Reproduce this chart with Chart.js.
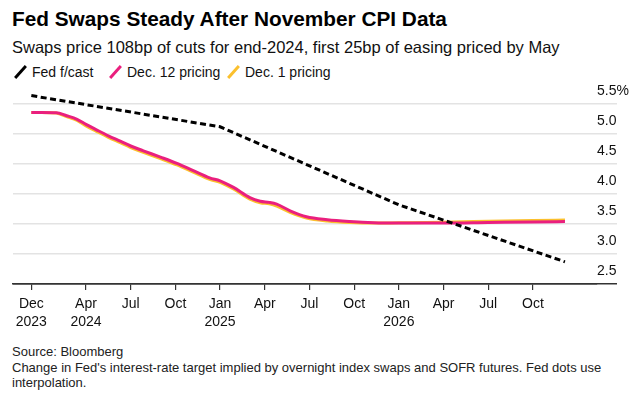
<!DOCTYPE html>
<html>
<head>
<meta charset="utf-8">
<script src="https://cdn.jsdelivr.net/npm/chart.js@4.4.0/dist/chart.umd.min.js"></script>
<style>
  body { margin:0; width:643px; height:396px; background:#fff; position:relative; overflow:hidden;
         font-family:"Liberation Sans", Arial, sans-serif; color:#000; }
  .txt { position:absolute; white-space:nowrap; }
  #title { left:12px; top:8px; font-size:20.8px; line-height:22px; font-weight:bold; }
  #subtitle { left:12px; top:38px; font-size:16.5px; line-height:18px; color:#111; }
  .leg { top:64px; font-size:14px; line-height:16px; color:#111; }
  .leg i { display:inline-block; width:3px; height:16px; margin:0 10px 0 5px; vertical-align:-3px; transform:rotate(42deg); }
  #chartBox { position:absolute; left:0; top:80px; width:643px; height:260px; }
  #notes { left:12px; top:344px; font-size:13px; line-height:15.5px; color:#222; }
</style>
</head>
<body>
<div class="txt" id="title">Fed Swaps Steady After November CPI Data</div>
<div class="txt" id="subtitle">Swaps price 108bp of cuts for end-2024, first 25bp of easing priced by May</div>
<div class="txt leg" style="left:14px"><i style="background:#000"></i>Fed f/cast</div>
<div class="txt leg" style="left:109px"><i style="background:#ea1f7e"></i>Dec. 12 pricing</div>
<div class="txt leg" style="left:227px"><i style="background:#fbc02d"></i>Dec. 1 pricing</div>
<div id="chartBox"><canvas id="chart" width="643" height="260"></canvas></div>
<div class="txt" id="notes">Source: Bloomberg<br>Change in Fed's interest-rate target implied by overnight index swaps and SOFR futures. Fed dots use<br>interpolation.</div>
<script>
// x values are months counted from Jan 2024 (Dec 13 2023 = -0.67)
const fedMonths = [-0.67, 12, 24, 35.15];
const fedValues = [5.64, 5.12, 3.82, 2.87];

const pricingMonths = [-0.67, 0, 1, 1.7, 2.4, 3, 3.7, 4.5, 5.3, 6, 6.85, 8, 9.1, 10.2, 11.3,
  12, 12.9, 14, 14.7, 15.3, 15.8, 16.7, 17.8, 19.2, 20.7, 22.3, 24, 27, 30, 33, 35.15];
const dec12Values = [5.36, 5.36, 5.355, 5.305, 5.245, 5.16, 5.07, 4.97, 4.88, 4.80, 4.72, 4.615, 4.51, 4.39, 4.27,
  4.22, 4.11, 3.94, 3.88, 3.86, 3.83, 3.72, 3.62, 3.57, 3.54, 3.52, 3.515, 3.515, 3.525, 3.535, 3.54];
const dec1Values = [5.36, 5.36, 5.35, 5.29, 5.225, 5.135, 5.045, 4.945, 4.855, 4.775, 4.695, 4.59, 4.485, 4.365, 4.245,
  4.195, 4.085, 3.915, 3.855, 3.835, 3.80, 3.695, 3.60, 3.55, 3.525, 3.515, 3.52, 3.53, 3.545, 3.56, 3.565];

const tickMonths = [-0.67, 3, 6, 9, 12, 15, 18, 21, 24, 27, 30, 33];
const tickLabels = [['Dec', '2023'], ['Apr', '2024'], 'Jul', 'Oct', ['Jan', '2025'], 'Apr', 'Jul', 'Oct',
  ['Jan', '2026'], 'Apr', 'Jul', 'Oct'];
const yTicks = [2.5, 3.0, 3.5, 4.0, 4.5, 5.0, 5.5];

const toPoints = (xs, ys) => xs.map((x, i) => ({ x: x, y: ys[i] }));

new Chart(document.getElementById('chart'), {
  type: 'line',
  data: {
    datasets: [
      { label: 'Fed f/cast', data: toPoints(fedMonths, fedValues), borderColor: '#000',
        borderWidth: 3, borderDash: [6, 3.5], tension: 0 },
      { label: 'Dec. 12 pricing', data: toPoints(pricingMonths, dec12Values), borderColor: '#ea1f7e',
        borderWidth: 3, cubicInterpolationMode: 'monotone' },
      { label: 'Dec. 1 pricing', data: toPoints(pricingMonths, dec1Values), borderColor: '#fbc02d',
        borderWidth: 3, cubicInterpolationMode: 'monotone' }
    ]
  },
  options: {
    responsive: false,
    animation: false,
    devicePixelRatio: 1,
    layout: { padding: { left: 13, top: 9, right: 0, bottom: 0 } },
    elements: { point: { radius: 0 } },
    plugins: { legend: { display: false }, tooltip: { enabled: false } },
    scales: {
      x: {
        type: 'linear', min: -1.9, max: 37.3,
        afterBuildTicks: s => { s.ticks = tickMonths.map(v => ({ value: v })); },
        afterFit: s => { s.height = 56; },
        grid: { drawOnChartArea: false, drawTicks: true, tickLength: 6, color: '#333', lineWidth: 1.2 },
        border: { display: true, color: '#333', width: 1.5 },
        ticks: {
          padding: 5, maxRotation: 0, autoSkip: false, color: '#111',
          font: { family: '"Liberation Sans", Arial, sans-serif', size: 14, lineHeight: 1.3 },
          callback: (v, i) => tickLabels[i]
        }
      },
      y: {
        position: 'right', min: 2.5, max: 5.75,
        afterBuildTicks: s => { s.ticks = yTicks.map(v => ({ value: v })); },
        afterFit: s => { s.width = 46; },
        grid: {
          color: ctx => (ctx.tick && ctx.tick.value === 2.5) ? '#333' : '#e3e3e3',
          lineWidth: 1.5, drawTicks: true, tickLength: 20
        },
        border: { display: false },
        ticks: {
          padding: -20, labelOffset: -13, crossAlign: 'near', color: '#111',
          font: { family: '"Liberation Sans", Arial, sans-serif', size: 14 },
          callback: v => v === 5.5 ? '5.5%' : v.toFixed(1)
        }
      }
    }
  }
});
</script>
</body>
</html>
